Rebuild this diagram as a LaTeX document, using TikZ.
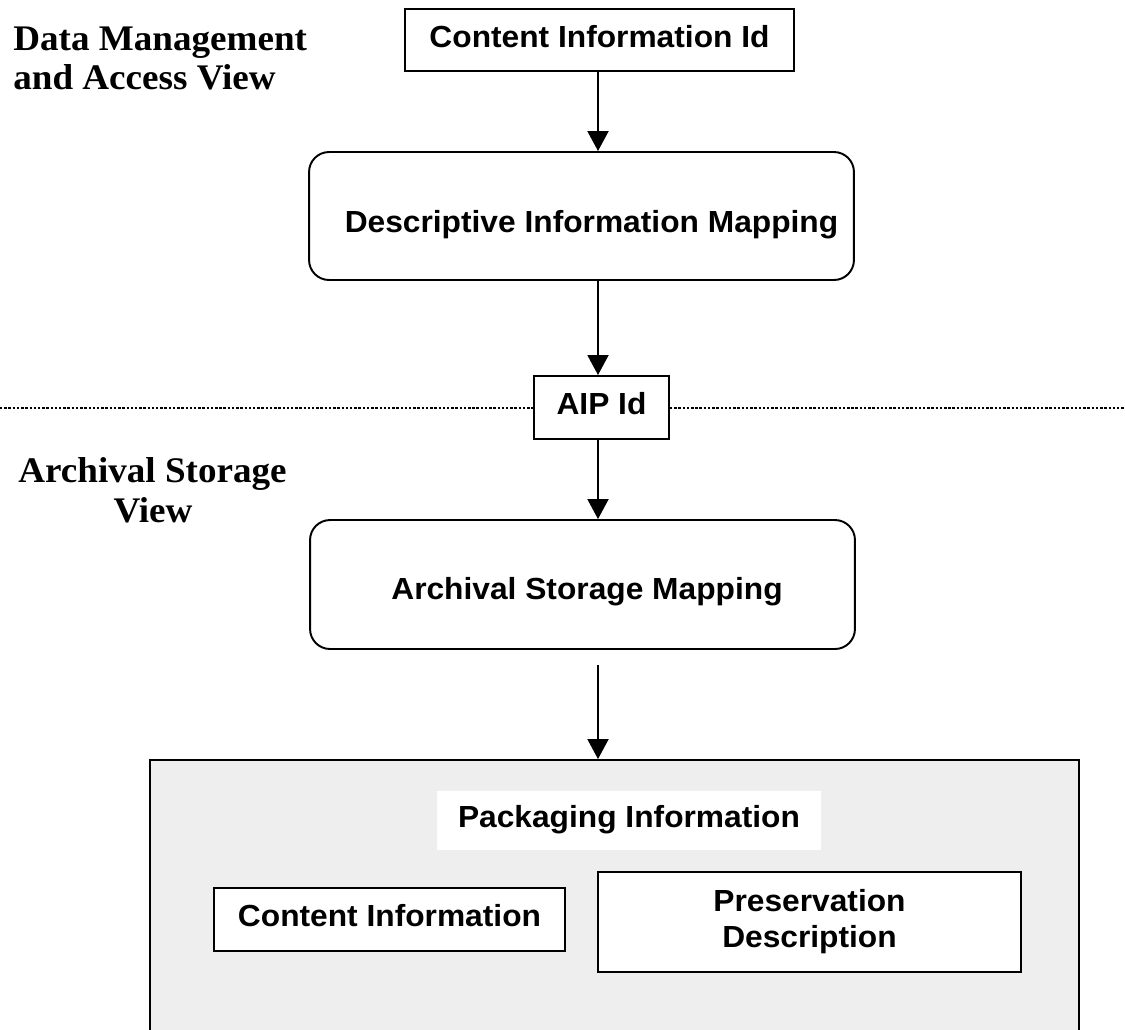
\documentclass[tikz,border=0pt]{standalone}
\usepackage{fontspec}
\newfontfamily\sansbox{Liberation Sans}[FakeStretch=1.04]
\newfontfamily\serifttl{Liberation Serif}[FakeStretch=1.03]
\usetikzlibrary{arrows.meta}
\definecolor{panelgray}{HTML}{EEEEEE}
\begin{document}
\begin{tikzpicture}[x=0.02cm,y=-0.02cm,
  sanstext/.style={font=\sansbox\bfseries\fontsize{17.36pt}{20.5pt}\selectfont},
  box/.style={draw, line width=1.1pt, fill=white, inner sep=0pt, sanstext, text height=0.4cm, text depth=0.12cm},
  roundbox/.style={draw, line width=1.1pt, fill=white, rounded corners=0.4cm, inner sep=0pt},
  lab/.style={sanstext, inner sep=0pt},
  ttl/.style={font=\serifttl\bfseries\fontsize{20.5pt}{22.5pt}\selectfont, inner sep=0pt},
  arr/.style={line width=1.1pt, -{Triangle[length=0.4cm,width=0.42cm]}},
  dotline/.style={line width=1.6pt, dash pattern=on 1.4pt off 1.0pt}
]
\useasboundingbox (0,0) rectangle (1125,1029);
\clip (0,0) rectangle (1125,1029);

% titles
\node[ttl, anchor=base west] (t1a) at (13,50) {Data Management};
\node[ttl, anchor=base west] (t1b) at (13,89) {and Access View};
\node[ttl, anchor=base] (t2a) at (152.5,482) {Archival Storage};
\node[ttl, anchor=base] (t2b) at (153,522) {View};

% upper chain
\node[box, minimum width=7.78cm, minimum height=1.24cm] (cid) at (599.5,40) {Content Information Id};
\node[roundbox, minimum width=10.9cm, minimum height=2.56cm] (dim) at (581.5,216) {};
\node[lab, anchor=base] (dimtext) at (591.5,232) {Descriptive Information Mapping};

\node[box, minimum width=2.7cm, minimum height=1.26cm] (aip) at (601.5,407.5) {AIP Id};

\node[roundbox, minimum width=10.9cm, minimum height=2.58cm] (asm) at (582.5,584.5) {};
\node[lab, anchor=base] (asmtext) at (587,599) {Archival Storage Mapping};

% package panel
\node[draw, fill=panelgray, line width=1.1pt, inner sep=0pt, minimum width=18.58cm, minimum height=6cm] (aipbox) at (614.5,910) {};
\node[fill=white, inner sep=0pt, sanstext, text height=0.4cm, text depth=0.12cm, minimum width=7.68cm, minimum height=1.18cm] (pkg) at (629,820.5) {Packaging Information};
\node[box, minimum width=7.02cm, minimum height=1.26cm] (ci) at (389.5,919.5) {Content Information};
\node[draw, line width=1.1pt, fill=white, inner sep=0pt, sanstext, align=center, minimum width=8.46cm, minimum height=2cm] (pd) at (809.5,922) {Preservation\\Description};

% dotted separator
\coordinate (dl) at (0,408);
\coordinate (dr) at (1125,408);
\draw[dotline] (dl) -- (dl -| aip.west);
\draw[dotline] (aip.east |- dr) -- (dr);

% arrows
\coordinate (ax) at (598,0);
\coordinate (a4) at (598,665);
\draw[arr] (ax |- cid.south) -- (ax |- dim.north);
\draw[arr] (ax |- dim.south) -- (ax |- aip.north);
\draw[arr] (ax |- aip.south) -- (ax |- asm.north);
\draw[arr] (a4) -- (a4 |- aipbox.north);
\end{tikzpicture}
\end{document}
